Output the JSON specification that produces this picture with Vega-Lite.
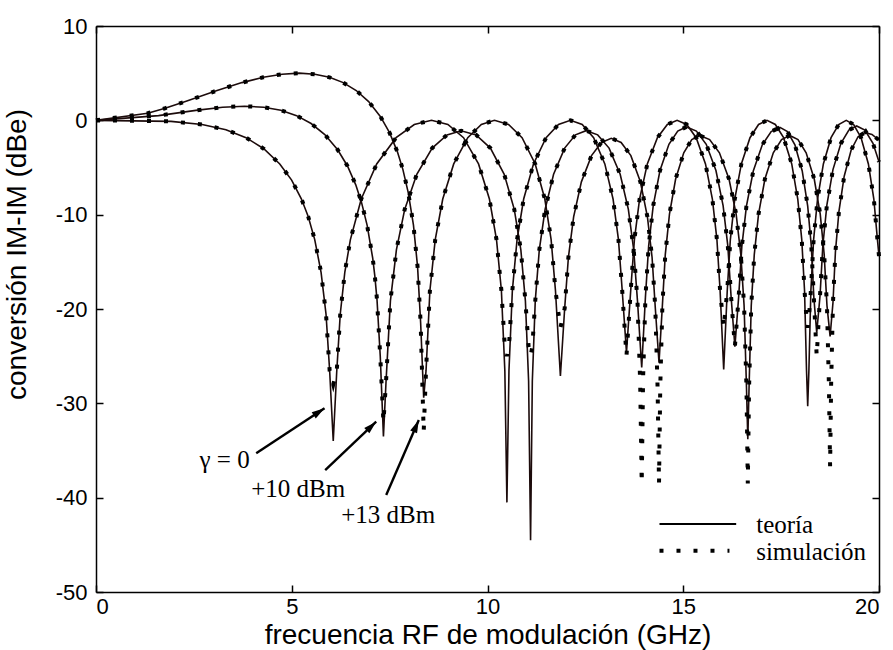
{
"$schema":"https://vega.github.io/schema/vega-lite/v6.json",
"width":783,"height":566,
"autosize":{"type":"none"},
"padding":{"left":96,"top":26,"right":14,"bottom":58},
"background":"white",
"config":{"view":{"stroke":null},
"axis":{"grid":false,"domainColor":"black","domainWidth":1.5,"tickColor":"black","tickWidth":1.5,"tickSize":-7,"labelFont":"Liberation Sans","labelFontSize":22,"labelColor":"black","titleFont":"Liberation Sans","titleFontSize":28,"titleFontWeight":"normal","titleColor":"black"}},
"datasets":{
"curvas":[
{"c":"A","f":0,"teo":0,"sim":0},{"c":"A","f":1.916,"teo":-0.11,"sim":-0.11},{"c":"A","f":2.71,"teo":-0.44,"sim":-0.44},{"c":"A","f":3.319,"teo":-1.0,"sim":-1.0},{"c":"A","f":3.833,"teo":-1.84,"sim":-1.84},{"c":"A","f":4.285,"teo":-3.01,"sim":-3.01},{"c":"A","f":4.694,"teo":-4.62,"sim":-4.62},{"c":"A","f":4.997,"teo":-6.34,"sim":-6.34},{"c":"A","f":5.248,"teo":-8.34,"sim":-8.34},{"c":"A","f":5.42,"teo":-10.2,"sim":-10.2},{"c":"A","f":5.587,"teo":-12.64,"sim":-12.64},{"c":"A","f":5.749,"teo":-16.11,"sim":-16.11},{"c":"A","f":5.875,"teo":-20.53,"sim":-20.53},{"c":"A","f":5.968,"teo":-26.54,"sim":-26.54},{"c":"A","f":6.06,"teo":-34,"sim":-28},{"c":"A","f":6.15,"teo":-26.54,"sim":-26.54},{"c":"A","f":6.239,"teo":-20.53,"sim":-20.53},{"c":"A","f":6.355,"teo":-16.11,"sim":-16.11},{"c":"A","f":6.498,"teo":-12.64,"sim":-12.64},{"c":"A","f":6.775,"teo":-8.34,"sim":-8.34},{"c":"A","f":7.17,"teo":-4.62,"sim":-4.62},{"c":"A","f":7.665,"teo":-1.84,"sim":-1.84},{"c":"A","f":8.13,"teo":-0.44,"sim":-0.44},{"c":"A","f":8.57,"teo":0,"sim":0},{"c":"A","f":8.988,"teo":-0.44,"sim":-0.44},{"c":"A","f":9.388,"teo":-1.84,"sim":-1.84},{"c":"A","f":9.771,"teo":-4.62,"sim":-4.62},{"c":"A","f":10.049,"teo":-8.34,"sim":-8.34},{"c":"A","f":10.23,"teo":-12.64,"sim":-12.64},{"c":"A","f":10.355,"teo":-18.04,"sim":-18.04},{"c":"A","f":10.443,"teo":-26.54,"sim":-24},{"c":"A","f":10.496,"teo":-40.5,"sim":-25},{"c":"A","f":10.548,"teo":-26.54,"sim":-24},{"c":"A","f":10.635,"teo":-18.04,"sim":-18.04},{"c":"A","f":10.755,"teo":-12.64,"sim":-12.64},{"c":"A","f":10.924,"teo":-8.34,"sim":-8.34},{"c":"A","f":11.174,"teo":-4.62,"sim":-4.62},{"c":"A","f":11.497,"teo":-1.84,"sim":-1.84},{"c":"A","f":11.813,"teo":-0.44,"sim":-0.44},{"c":"A","f":12.119,"teo":0,"sim":0},{"c":"A","f":12.419,"teo":-0.44,"sim":-0.44},{"c":"A","f":12.711,"teo":-1.84,"sim":-1.84},{"c":"A","f":12.997,"teo":-4.62,"sim":-4.62},{"c":"A","f":13.207,"teo":-8.34,"sim":-8.34},{"c":"A","f":13.345,"teo":-12.64,"sim":-12.64},{"c":"A","f":13.441,"teo":-18.04,"sim":-18.04},{"c":"A","f":13.55,"teo":-24.6,"sim":-25},{"c":"A","f":13.658,"teo":-18.04,"sim":-18.04},{"c":"A","f":13.752,"teo":-12.64,"sim":-12.64},{"c":"A","f":13.885,"teo":-8.34,"sim":-8.34},{"c":"A","f":14.082,"teo":-4.62,"sim":-4.62},{"c":"A","f":14.34,"teo":-1.84,"sim":-1.84},{"c":"A","f":14.594,"teo":-0.44,"sim":-0.44},{"c":"A","f":14.843,"teo":0,"sim":0},{"c":"A","f":15.089,"teo":-0.44,"sim":-0.44},{"c":"A","f":15.33,"teo":-1.84,"sim":-1.84},{"c":"A","f":15.568,"teo":-4.62,"sim":-4.62},{"c":"A","f":15.744,"teo":-8.34,"sim":-8.34},{"c":"A","f":15.86,"teo":-12.64,"sim":-12.64},{"c":"A","f":15.941,"teo":-18.04,"sim":-18.04},{"c":"A","f":16.033,"teo":-26.4,"sim":-22},{"c":"A","f":16.124,"teo":-18.04,"sim":-18.04},{"c":"A","f":16.203,"teo":-12.64,"sim":-12.64},{"c":"A","f":16.316,"teo":-8.34,"sim":-8.34},{"c":"A","f":16.484,"teo":-4.62,"sim":-4.62},{"c":"A","f":16.705,"teo":-1.84,"sim":-1.84},{"c":"A","f":16.924,"teo":-0.44,"sim":-0.44},{"c":"A","f":17.139,"teo":0,"sim":0},{"c":"A","f":17.352,"teo":-0.44,"sim":-0.44},{"c":"A","f":17.563,"teo":-1.84,"sim":-1.84},{"c":"A","f":17.771,"teo":-4.62,"sim":-4.62},{"c":"A","f":17.925,"teo":-8.34,"sim":-8.34},{"c":"A","f":18.027,"teo":-12.64,"sim":-12.64},{"c":"A","f":18.098,"teo":-18.04,"sim":-18.04},{"c":"A","f":18.149,"teo":-26.54,"sim":-21},{"c":"A","f":18.179,"teo":-30.3,"sim":-22},{"c":"A","f":18.209,"teo":-26.54,"sim":-21},{"c":"A","f":18.26,"teo":-18.04,"sim":-18.04},{"c":"A","f":18.33,"teo":-12.64,"sim":-12.64},{"c":"A","f":18.43,"teo":-8.34,"sim":-8.34},{"c":"A","f":18.579,"teo":-4.62,"sim":-4.62},{"c":"A","f":18.775,"teo":-1.84,"sim":-1.84},{"c":"A","f":18.97,"teo":-0.44,"sim":-0.44},{"c":"A","f":19.163,"teo":0,"sim":0},{"c":"A","f":19.353,"teo":-0.44,"sim":-0.44},{"c":"A","f":19.542,"teo":-1.84,"sim":-1.84},{"c":"A","f":19.729,"teo":-4.62,"sim":-4.62},{"c":"A","f":19.868,"teo":-8.34,"sim":-8.34},{"c":"A","f":19.96,"teo":-12.64,"sim":-12.64},{"c":"A","f":20,"teo":-14.4,"sim":-14.4},
{"c":"B","f":0,"teo":0,"sim":0},{"c":"B","f":1.597,"teo":0.5,"sim":0.5},{"c":"B","f":2.55,"teo":1.06,"sim":1.06},{"c":"B","f":3.233,"teo":1.39,"sim":1.39},{"c":"B","f":3.795,"teo":1.5,"sim":1.5},{"c":"B","f":4.284,"teo":1.39,"sim":1.39},{"c":"B","f":4.722,"teo":1.06,"sim":1.06},{"c":"B","f":5.124,"teo":0.5,"sim":0.5},{"c":"B","f":5.495,"teo":-0.34,"sim":-0.34},{"c":"B","f":5.844,"teo":-1.51,"sim":-1.51},{"c":"B","f":6.173,"teo":-3.12,"sim":-3.12},{"c":"B","f":6.423,"teo":-4.84,"sim":-4.84},{"c":"B","f":6.635,"teo":-6.84,"sim":-6.84},{"c":"B","f":6.782,"teo":-8.7,"sim":-8.7},{"c":"B","f":6.926,"teo":-11.14,"sim":-11.14},{"c":"B","f":7.068,"teo":-14.61,"sim":-14.61},{"c":"B","f":7.123,"teo":-16.54,"sim":-16.54},{"c":"B","f":7.178,"teo":-19.03,"sim":-19.03},{"c":"B","f":7.261,"teo":-25.04,"sim":-25.04},{"c":"B","f":7.342,"teo":-33.5,"sim":-32},{"c":"B","f":7.409,"teo":-27.64,"sim":-27.64},{"c":"B","f":7.52,"teo":-19.14,"sim":-19.14},{"c":"B","f":7.673,"teo":-13.74,"sim":-13.74},{"c":"B","f":7.885,"teo":-9.44,"sim":-9.44},{"c":"B","f":8.194,"teo":-5.72,"sim":-5.72},{"c":"B","f":8.588,"teo":-2.94,"sim":-2.94},{"c":"B","f":8.966,"teo":-1.54,"sim":-1.54},{"c":"B","f":9.327,"teo":-1.1,"sim":-1.1},{"c":"B","f":9.708,"teo":-1.54,"sim":-1.54},{"c":"B","f":10.074,"teo":-2.94,"sim":-2.94},{"c":"B","f":10.427,"teo":-5.72,"sim":-5.72},{"c":"B","f":10.684,"teo":-9.44,"sim":-9.44},{"c":"B","f":10.852,"teo":-13.74,"sim":-13.74},{"c":"B","f":10.968,"teo":-19.14,"sim":-19.14},{"c":"B","f":11.05,"teo":-27.64,"sim":-24},{"c":"B","f":11.1,"teo":-44.5,"sim":-25},{"c":"B","f":11.145,"teo":-27.64,"sim":-24},{"c":"B","f":11.22,"teo":-19.14,"sim":-19.14},{"c":"B","f":11.323,"teo":-13.74,"sim":-13.74},{"c":"B","f":11.471,"teo":-9.44,"sim":-9.44},{"c":"B","f":11.688,"teo":-5.72,"sim":-5.72},{"c":"B","f":11.971,"teo":-2.94,"sim":-2.94},{"c":"B","f":12.247,"teo":-1.54,"sim":-1.54},{"c":"B","f":12.518,"teo":-1.1,"sim":-1.1},{"c":"B","f":12.815,"teo":-1.54,"sim":-1.54},{"c":"B","f":13.105,"teo":-2.94,"sim":-2.94},{"c":"B","f":13.389,"teo":-5.72,"sim":-5.72},{"c":"B","f":13.598,"teo":-9.44,"sim":-9.44},{"c":"B","f":13.735,"teo":-13.74,"sim":-13.74},{"c":"B","f":13.831,"teo":-19.14,"sim":-19.14},{"c":"B","f":13.899,"teo":null,"sim":-27.64},{"c":"B","f":13.939,"teo":-26.2,"sim":-38.5},{"c":"B","f":13.975,"teo":null,"sim":-27.24},{"c":"B","f":14.034,"teo":-18.74,"sim":-18.74},{"c":"B","f":14.116,"teo":-13.34,"sim":-13.34},{"c":"B","f":14.233,"teo":-9.04,"sim":-9.04},{"c":"B","f":14.406,"teo":-5.32,"sim":-5.32},{"c":"B","f":14.634,"teo":-2.54,"sim":-2.54},{"c":"B","f":14.859,"teo":-1.14,"sim":-1.14},{"c":"B","f":15.08,"teo":-0.7,"sim":-0.7},{"c":"B","f":15.336,"teo":-1.14,"sim":-1.14},{"c":"B","f":15.587,"teo":-2.54,"sim":-2.54},{"c":"B","f":15.835,"teo":-5.32,"sim":-5.32},{"c":"B","f":16.018,"teo":-9.04,"sim":-9.04},{"c":"B","f":16.139,"teo":-13.34,"sim":-13.34},{"c":"B","f":16.223,"teo":-18.74,"sim":-18.74},{"c":"B","f":16.319,"teo":-24,"sim":-24},{"c":"B","f":16.414,"teo":-18.79,"sim":-18.79},{"c":"B","f":16.496,"teo":-13.39,"sim":-13.39},{"c":"B","f":16.614,"teo":-9.09,"sim":-9.09},{"c":"B","f":16.789,"teo":-5.37,"sim":-5.37},{"c":"B","f":17.019,"teo":-2.59,"sim":-2.59},{"c":"B","f":17.246,"teo":-1.19,"sim":-1.19},{"c":"B","f":17.47,"teo":-0.75,"sim":-0.75},{"c":"B","f":17.662,"teo":-1.19,"sim":-1.19},{"c":"B","f":17.852,"teo":-2.59,"sim":-2.59},{"c":"B","f":18.039,"teo":-5.37,"sim":-5.37},{"c":"B","f":18.179,"teo":-9.09,"sim":-9.09},{"c":"B","f":18.272,"teo":-13.39,"sim":-13.39},{"c":"B","f":18.336,"teo":-18.79,"sim":-18.79},{"c":"B","f":18.409,"teo":-22.5,"sim":-25},{"c":"B","f":18.493,"teo":-18.64,"sim":-18.64},{"c":"B","f":18.566,"teo":-13.24,"sim":-13.24},{"c":"B","f":18.67,"teo":-8.94,"sim":-8.94},{"c":"B","f":18.824,"teo":-5.22,"sim":-5.22},{"c":"B","f":19.028,"teo":-2.44,"sim":-2.44},{"c":"B","f":19.23,"teo":-1.04,"sim":-1.04},{"c":"B","f":19.429,"teo":-0.6,"sim":-0.6},{"c":"B","f":19.639,"teo":-1.04,"sim":-1.04},{"c":"B","f":19.846,"teo":-2.44,"sim":-2.44},{"c":"B","f":20,"teo":-4.4,"sim":-4.4},
{"c":"C","f":0,"teo":0,"sim":0},{"c":"C","f":1.32,"teo":0.75,"sim":0.75},{"c":"C","f":1.743,"teo":1.25,"sim":1.25},{"c":"C","f":2.283,"teo":1.99,"sim":1.99},{"c":"C","f":3.092,"teo":3.16,"sim":3.16},{"c":"C","f":3.728,"teo":4.0,"sim":4.0},{"c":"C","f":4.272,"teo":4.56,"sim":4.56},{"c":"C","f":4.754,"teo":4.89,"sim":4.89},{"c":"C","f":5.19,"teo":5.0,"sim":5.0},{"c":"C","f":5.59,"teo":4.89,"sim":4.89},{"c":"C","f":5.963,"teo":4.56,"sim":4.56},{"c":"C","f":6.315,"teo":4.0,"sim":4.0},{"c":"C","f":6.647,"teo":3.16,"sim":3.16},{"c":"C","f":6.964,"teo":1.99,"sim":1.99},{"c":"C","f":7.267,"teo":0.39,"sim":0.39},{"c":"C","f":7.501,"teo":-1.34,"sim":-1.34},{"c":"C","f":7.699,"teo":-3.34,"sim":-3.34},{"c":"C","f":7.838,"teo":-5.2,"sim":-5.2},{"c":"C","f":7.974,"teo":-7.64,"sim":-7.64},{"c":"C","f":8.109,"teo":-11.11,"sim":-11.11},{"c":"C","f":8.214,"teo":-15.53,"sim":-15.53},{"c":"C","f":8.293,"teo":-21.54,"sim":-21.54},{"c":"C","f":8.37,"teo":-29.4,"sim":-33},{"c":"C","f":8.43,"teo":-26.54,"sim":-26.54},{"c":"C","f":8.529,"teo":-18.04,"sim":-18.04},{"c":"C","f":8.665,"teo":-12.64,"sim":-12.64},{"c":"C","f":8.857,"teo":-8.34,"sim":-8.34},{"c":"C","f":9.137,"teo":-4.62,"sim":-4.62},{"c":"C","f":9.496,"teo":-1.84,"sim":-1.84},{"c":"C","f":9.843,"teo":-0.44,"sim":-0.44},{"c":"C","f":10.178,"teo":0,"sim":0},{"c":"C","f":10.537,"teo":-0.44,"sim":-0.44},{"c":"C","f":10.883,"teo":-1.84,"sim":-1.84},{"c":"C","f":11.219,"teo":-4.62,"sim":-4.62},{"c":"C","f":11.464,"teo":-8.34,"sim":-8.34},{"c":"C","f":11.625,"teo":-12.64,"sim":-12.64},{"c":"C","f":11.736,"teo":-18.04,"sim":-18.04},{"c":"C","f":11.862,"teo":-27.1,"sim":-22},{"c":"C","f":11.971,"teo":-19.94,"sim":-19.94},{"c":"C","f":12.066,"teo":-14.54,"sim":-14.54},{"c":"C","f":12.2,"teo":-10.24,"sim":-10.24},{"c":"C","f":12.398,"teo":-6.52,"sim":-6.52},{"c":"C","f":12.657,"teo":-3.74,"sim":-3.74},{"c":"C","f":12.911,"teo":-2.34,"sim":-2.34},{"c":"C","f":13.161,"teo":-1.9,"sim":-1.9},{"c":"C","f":13.413,"teo":-2.34,"sim":-2.34},{"c":"C","f":13.662,"teo":-3.74,"sim":-3.74},{"c":"C","f":13.905,"teo":-6.52,"sim":-6.52},{"c":"C","f":14.085,"teo":-10.24,"sim":-10.24},{"c":"C","f":14.204,"teo":-14.54,"sim":-14.54},{"c":"C","f":14.287,"teo":-19.94,"sim":-19.94},{"c":"C","f":14.345,"teo":null,"sim":-28.44},{"c":"C","f":14.381,"teo":-25.7,"sim":-38.5},{"c":"C","f":14.413,"teo":null,"sim":-28.14},{"c":"C","f":14.467,"teo":-19.64,"sim":-19.64},{"c":"C","f":14.541,"teo":-14.24,"sim":-14.24},{"c":"C","f":14.648,"teo":-9.94,"sim":-9.94},{"c":"C","f":14.805,"teo":-6.22,"sim":-6.22},{"c":"C","f":15.013,"teo":-3.44,"sim":-3.44},{"c":"C","f":15.218,"teo":-2.04,"sim":-2.04},{"c":"C","f":15.421,"teo":-1.6,"sim":-1.6},{"c":"C","f":15.674,"teo":-2.04,"sim":-2.04},{"c":"C","f":15.924,"teo":-3.44,"sim":-3.44},{"c":"C","f":16.169,"teo":-6.22,"sim":-6.22},{"c":"C","f":16.351,"teo":-9.94,"sim":-9.94},{"c":"C","f":16.471,"teo":-14.24,"sim":-14.24},{"c":"C","f":16.554,"teo":-19.64,"sim":-19.64},{"c":"C","f":16.614,"teo":-28.14,"sim":-28.14},{"c":"C","f":16.649,"teo":-33.8,"sim":-38.5},{"c":"C","f":16.682,"teo":-28.14,"sim":-28.14},{"c":"C","f":16.737,"teo":-19.64,"sim":-19.64},{"c":"C","f":16.814,"teo":-14.24,"sim":-14.24},{"c":"C","f":16.923,"teo":-9.94,"sim":-9.94},{"c":"C","f":17.086,"teo":-6.22,"sim":-6.22},{"c":"C","f":17.3,"teo":-3.44,"sim":-3.44},{"c":"C","f":17.511,"teo":-2.04,"sim":-2.04},{"c":"C","f":17.72,"teo":-1.6,"sim":-1.6},{"c":"C","f":17.931,"teo":-2.04,"sim":-2.04},{"c":"C","f":18.139,"teo":-3.44,"sim":-3.44},{"c":"C","f":18.346,"teo":-6.22,"sim":-6.22},{"c":"C","f":18.499,"teo":-9.94,"sim":-9.94},{"c":"C","f":18.6,"teo":-14.24,"sim":-14.24},{"c":"C","f":18.671,"teo":-19.64,"sim":-19.64},{"c":"C","f":18.721,"teo":null,"sim":-28.14},{"c":"C","f":18.751,"teo":-22.9,"sim":-36.7},{"c":"C","f":18.778,"teo":null,"sim":-27.84},{"c":"C","f":18.824,"teo":-19.34,"sim":-19.34},{"c":"C","f":18.887,"teo":-13.94,"sim":-13.94},{"c":"C","f":18.977,"teo":-9.64,"sim":-9.64},{"c":"C","f":19.111,"teo":-5.92,"sim":-5.92},{"c":"C","f":19.289,"teo":-3.14,"sim":-3.14},{"c":"C","f":19.465,"teo":-1.74,"sim":-1.74},{"c":"C","f":19.639,"teo":-1.3,"sim":-1.3},{"c":"C","f":19.82,"teo":-1.5,"sim":-1.5},{"c":"C","f":20,"teo":-2.1,"sim":-2.1}
],
"flechas":[
{"n":"g0","x":4.092,"y":-35.3,"x2":5.837,"y2":-30.53},
{"n":"p10","x":5.854,"y":-37.07,"x2":7.157,"y2":-31.95},
{"n":"p13","x":7.413,"y":-39.72,"x2":8.245,"y2":-31.77}
],
"textos":[
{"t":"γ = 0","x":2.644,"y":-36.89},
{"t":"+10 dBm","x":3.964,"y":-39.9},
{"t":"+13 dBm","x":6.263,"y":-42.66},
{"t":"teoría","x":16.863,"y":-43.75},
{"t":"simulación","x":16.863,"y":-46.61}
],
"leyenda":[
{"tipo":"teoría","x":14.393,"x2":16.352,"y":-42.8},
{"tipo":"simulación","x":14.393,"x2":16.18,"y":-45.63}
]
},
"layer":[
{"data":{"name":"curvas"},"transform":[{"filter":"isValid(datum.teo)"}],
 "mark":{"type":"line","color":"#1c0b0b","strokeWidth":1.6},
 "encoding":{
  "x":{"field":"f","type":"quantitative","scale":{"domain":[0,20],"nice":false,"zero":false},
   "axis":{"orient":"bottom","values":[0,5,10,15,20],"labelPadding":11,"labelExpr":"'' + datum.value","title":"frecuencia RF de modulación (GHz)","titleY":51,"titleBaseline":"alphabetic"}},
  "y":{"field":"teo","type":"quantitative","scale":{"domain":[-50,10],"nice":false,"zero":false},
   "axis":{"orient":"left","values":[-50,-40,-30,-20,-10,0,10],"labelPadding":16,"labelExpr":"'' + datum.value","title":"conversión IM-IM (dBe)","titleX":-79,"titleY":228,"titleBaseline":"middle","titleAlign":"center"}},
  "detail":{"field":"c"}}},
{"data":{"name":"curvas"},"transform":[{"filter":"isValid(datum.sim)"}],
 "mark":{"type":"line","color":"black","strokeWidth":4,"strokeDash":[4,13],"strokeCap":"butt"},
 "encoding":{
  "x":{"field":"f","type":"quantitative","axis":null},
  "y":{"field":"sim","type":"quantitative","axis":null},
  "detail":{"field":"c"}}},
{"data":{"name":"flechas"},
 "mark":{"type":"rule","color":"black","strokeWidth":2.4},
 "encoding":{
  "x":{"field":"x","type":"quantitative","axis":null},
  "y":{"field":"y","type":"quantitative","axis":null},
  "x2":{"field":"x2"},"y2":{"field":"y2"}}},
{"data":{"name":"flechas"},"transform":[{"filter":"datum.n == 'g0'"}],
 "mark":{"type":"point","shape":"M0,0L-0.55,1.9L0.55,1.9Z","filled":true,"color":"black","opacity":1,"size":185,"angle":56.6},
 "encoding":{"x":{"field":"x2","type":"quantitative","axis":null},"y":{"field":"y2","type":"quantitative","axis":null}}},
{"data":{"name":"flechas"},"transform":[{"filter":"datum.n == 'p10'"}],
 "mark":{"type":"point","shape":"M0,0L-0.55,1.9L0.55,1.9Z","filled":true,"color":"black","opacity":1,"size":185,"angle":46.6},
 "encoding":{"x":{"field":"x2","type":"quantitative","axis":null},"y":{"field":"y2","type":"quantitative","axis":null}}},
{"data":{"name":"flechas"},"transform":[{"filter":"datum.n == 'p13'"}],
 "mark":{"type":"point","shape":"M0,0L-0.55,1.9L0.55,1.9Z","filled":true,"color":"black","opacity":1,"size":185,"angle":23.5},
 "encoding":{"x":{"field":"x2","type":"quantitative","axis":null},"y":{"field":"y2","type":"quantitative","axis":null}}},
{"data":{"name":"leyenda"},"transform":[{"filter":"datum.tipo == 'teoría'"}],
 "mark":{"type":"rule","color":"black","strokeWidth":2},
 "encoding":{"x":{"field":"x","type":"quantitative","axis":null},"x2":{"field":"x2"},"y":{"field":"y","type":"quantitative","axis":null}}},
{"data":{"name":"leyenda"},"transform":[{"filter":"datum.tipo == 'simulación'"}],
 "mark":{"type":"rule","color":"black","strokeWidth":4,"strokeDash":[4,13],"strokeCap":"butt"},
 "encoding":{"x":{"field":"x","type":"quantitative","axis":null},"x2":{"field":"x2"},"y":{"field":"y","type":"quantitative","axis":null}}},
{"data":{"name":"textos"},
 "mark":{"type":"text","font":"Liberation Serif","fontSize":25,"align":"left","baseline":"alphabetic","color":"black"},
 "encoding":{
  "x":{"field":"x","type":"quantitative","axis":{"orient":"top","values":[0,5,10,15,20],"labels":false,"title":null}},
  "y":{"field":"y","type":"quantitative","axis":{"orient":"right","values":[-50,-40,-30,-20,-10,0,10],"labels":false,"title":null}},
  "text":{"field":"t"}}}
],
"resolve":{"axis":{"x":"independent","y":"independent"}}
}
